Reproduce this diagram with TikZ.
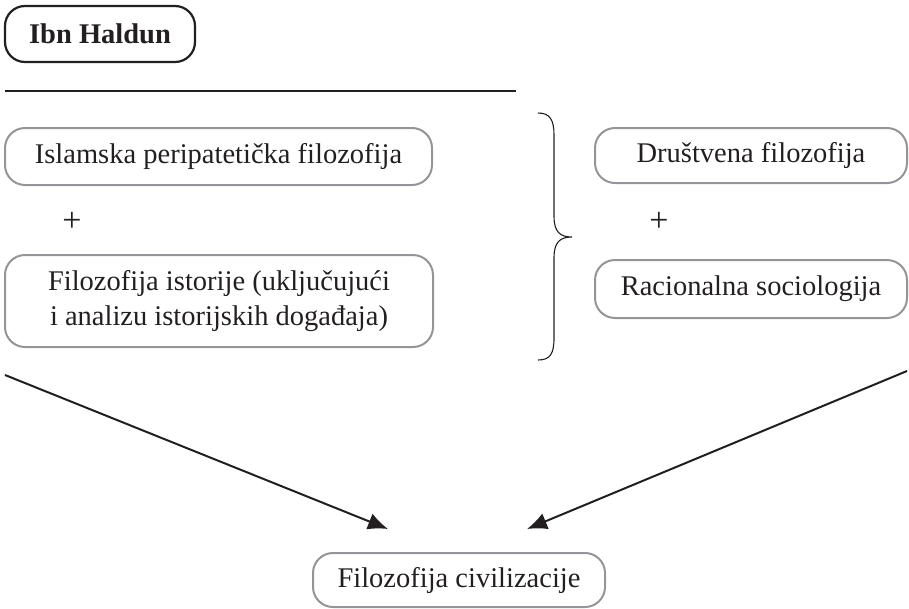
\documentclass[tikz,border=0pt]{standalone}
\usepackage{fontspec}
\setmainfont{Liberation Serif}
\usetikzlibrary{arrows.meta}
\definecolor{boxgray}{RGB}{147,149,152}
\definecolor{ink}{RGB}{35,31,32}
\begin{document}
\begin{tikzpicture}[x=1pt,y=-1pt,
		every node/.style={font=\fontsize{28.5}{35}\selectfont, text=ink},
		greybox/.style={draw=boxgray, line width=2pt, rounded corners=20pt, inner sep=0pt, align=center},
		headbox/.style={draw=ink, line width=2.2pt, rounded corners=20pt, inner sep=0pt, font=\fontsize{28.5}{35}\selectfont\bfseries},
		plussign/.style={font=\fontsize{34}{40}\selectfont},
		arr/.style={ink, line width=2pt, -{Latex[length=20pt,width=17pt]}}]
		\useasboundingbox (0,0) rectangle (909,608);
		\node[headbox, minimum width=190, minimum height=56] (ibn) at (100,34) {Ibn Haldun};
		\draw[ink, line width=2pt] (5,91) -- (516,91);
		\node[greybox, minimum width=427, minimum height=57] (islamska) at (218.5,156.5) {Islamska peripatetička filozofija};
		\node[plussign] (plusl) at (72,222) {+};
		\node[greybox, minimum width=428, minimum height=92] (istorija) at (219,301) {Filozofija istorije (uključujući\\i analizu istorijskih događaja)};
		\node[greybox, minimum width=312, minimum height=55] (drustvena) at (751,155.5) {Društvena filozofija};
		\node[plussign] (plusr) at (659,222) {+};
		\node[greybox, minimum width=312, minimum height=58] (racionalna) at (751,289) {Racionalna sociologija};
		\draw[ink, line width=1.1pt] (538,113) .. controls (550,113) and (554,120) .. (554,135) -- (554,216) .. controls (554,232) and (560,237) .. (572,237) .. controls (560,237) and (554,242) .. (554,258) -- (554,338) .. controls (554,354) and (550,360) .. (538,360);
		\node[greybox, minimum width=292, minimum height=54] (civilizacija) at (459,580) {Filozofija civilizacije};
		\coordinate (lstart) at (5,375);
		\coordinate (lend) at (388,529);
		\coordinate (rstart) at (907,371);
		\coordinate (rend) at (527,529);
		\draw[arr] (lstart) -- (lend);
		\draw[arr] (rstart) -- (rend);
\end{tikzpicture}
\end{document}
